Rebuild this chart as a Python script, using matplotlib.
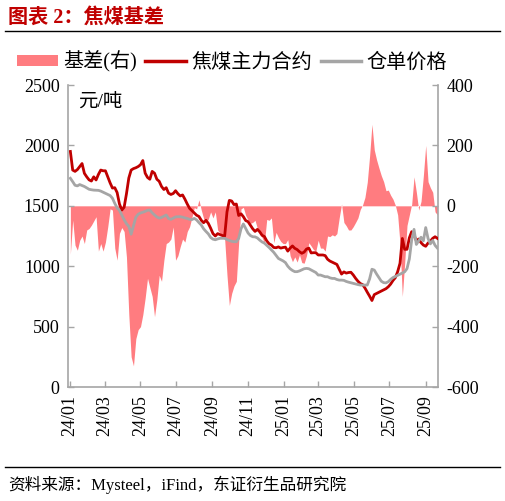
import pandas as pd
import matplotlib.pyplot as plt
import matplotlib.dates as mdates
from matplotlib.lines import Line2D
from matplotlib.patches import Patch

plt.rcParams["font.family"] = ["Liberation Serif", "Noto Sans CJK SC"]
plt.rcParams["axes.unicode_minus"] = False

START = "2024-01-02"
N_POINTS = 158

# 焦煤主力合约 (yuan/ton)
futures = [
    1950, 1796, 1785, 1800, 1825, 1850, 1769, 1740, 1715, 1705,
    1740, 1714, 1760, 1796, 1790, 1790, 1740, 1690, 1647, 1650,
    1610, 1515, 1465, 1488, 1600, 1730, 1796, 1808, 1815, 1825,
    1840, 1875, 1770, 1735, 1720, 1785, 1770, 1720, 1703, 1660,
    1635, 1650, 1605, 1594, 1602, 1625, 1600, 1582, 1590, 1555,
    1515, 1479, 1460, 1440, 1422, 1412, 1380, 1360, 1380, 1355,
    1315, 1270, 1250, 1270, 1262, 1254, 1250, 1450, 1545, 1540,
    1510, 1515, 1420, 1434, 1410, 1378, 1369, 1340, 1310, 1288,
    1305, 1285, 1256, 1246, 1210, 1186, 1175, 1155, 1153, 1160,
    1150, 1155, 1158, 1125, 1150, 1168, 1148, 1138, 1120, 1107,
    1117, 1142, 1150, 1110, 1112, 1112, 1093, 1093, 1093, 1088,
    1058, 1043, 1034, 1025, 1015, 975, 935, 953, 943, 948,
    950, 928, 900, 876, 857, 848, 820, 785, 752, 716,
    765, 775, 785, 795, 804, 814, 830, 852, 882, 905,
    955, 1024, 1230, 1140, 1140, 1235, 1286, 1258, 1210, 1225,
    1195, 1175, 1165, 1192, 1208, 1231, 1244, 1231,
]

# 仓单价格 (yuan/ton)
receipt = [
    1728, 1700, 1670, 1665, 1676, 1668, 1660, 1648, 1637, 1633,
    1630, 1629, 1628, 1622, 1613, 1605, 1596, 1585, 1563, 1520,
    1484, 1462, 1423, 1385, 1352, 1330, 1265, 1335, 1405, 1430,
    1441, 1447, 1454, 1463, 1465, 1442, 1424, 1408, 1398, 1404,
    1414, 1424, 1395, 1388, 1398, 1408, 1410, 1410, 1406, 1400,
    1395, 1388, 1386, 1396, 1383, 1361, 1341, 1310, 1288, 1268,
    1238, 1224, 1219, 1226, 1231, 1231, 1231, 1221, 1213, 1206,
    1203, 1203, 1230, 1310, 1350, 1312, 1275, 1254, 1244, 1243,
    1234, 1216, 1201, 1191, 1173, 1155, 1135, 1115, 1090, 1064,
    1054, 1044, 1030, 1000, 979, 965, 955, 955, 961, 970,
    979, 982, 979, 969, 960, 948, 927, 927, 920, 913,
    913, 904, 899, 899, 890, 885, 885, 883, 874, 868,
    863, 858, 853, 848, 844, 844, 844, 844, 895, 975,
    968, 935, 905, 876, 864, 862, 872, 891, 906, 915,
    925, 934, 944, 954, 980, 1060, 1217, 1305, 1180, 1210,
    1240, 1210, 1320, 1230, 1185, 1213, 1173, 1150,
]

# 基差 (right axis)
basis = [
    -160, -47, -130, -147, -114, -100, -125, -80, -75, -64,
    -50, -36, -150, -125, -150, -120, -69, -10, -14, -140,
    -180, -91, -72, -85, -170, -360, -500, -530, -440, -410,
    -400, -360, -305, -240, -270, -300, -367, -310, -230, -250,
    -180, -125, -120, -110, -70, -180, -165, -135, -110, -120,
    -85, -69, -38, -6, -10, 20, -14, -42, -55, -44,
    -20, -40, -20, -80, -90, -100, -110, -230, -330, -290,
    -265, -250, -120, -10, -5, -32, -46, -58, -55, -48,
    -75, -90, -105, -122, -45, -48, -40, -122, -88, -105,
    -118, -125, -125, -112, -165, -185, -169, -186, -162, -188,
    -190, -165, -122, -133, -145, -150, -114, -140, -140, -150,
    -100, -102, -96, -100, -92, -40, 6, -55, -66, -80,
    -80, -69, -55, -40, -12, 3, 28, 78, 165, 270,
    185, 152, 125, 100, 80, 50, 52, 35, 22, 2,
    -30, -125, -300, -190, -65, -30, 5, 96, 45, -14,
    15, 100, 200, 80, 60, 45, -20, -30,
]

RED = "#c00000"
GREY = "#a5a5a5"
FILL = "#ff7c80"
AXIS = "#a6a6a6"

dates = pd.date_range(START, periods=N_POINTS, freq="4D")

fig = plt.figure(figsize=(5.05, 5.01), dpi=100)
ax = fig.add_axes([0.1347, 0.2275, 0.7326, 0.6028])
ax2 = ax.twinx()

ax2.fill_between(dates, 0, basis, color=FILL, linewidth=0)
ax.plot(dates, futures, color=RED, linewidth=2.0)
ax.plot(dates, receipt, color=GREY, linewidth=2.0)

# lines above the fill
ax.set_zorder(ax2.get_zorder() + 1)
ax.patch.set_visible(False)

ax.set_ylim(0, 2500)
ax.set_yticks(range(0, 2501, 500))
ax2.set_ylim(-600, 400)
ax2.set_yticks(range(-600, 401, 200))
ax.set_xlim(pd.Timestamp("2023-12-29"), pd.Timestamp("2025-09-22"))
ax.xaxis.set_major_locator(mdates.MonthLocator(bymonth=[1, 3, 5, 7, 9, 11]))
ax.xaxis.set_major_formatter(mdates.DateFormatter("%y/%m"))

for a in (ax, ax2):
    a.spines["top"].set_visible(False)
    for s in a.spines.values():
        s.set_color(AXIS)
        s.set_linewidth(1.2)
    a.tick_params(direction="in", length=4, width=1, color=AXIS,
                  labelsize=13, labelcolor="black")
ax.spines["right"].set_visible(False)
ax2.spines["left"].set_visible(False)
ax2.spines["bottom"].set_visible(False)
ax.tick_params(axis="x", rotation=90, pad=6)
ax.tick_params(axis="y", pad=6)
ax2.tick_params(axis="y", pad=6)

ax.text(0.027, 0.944, "元/吨", transform=ax.transAxes, fontsize=14,
        va="center", ha="left")

handles = [Patch(facecolor=FILL, edgecolor="none"),
           Line2D([0], [0], color=RED, linewidth=2.5),
           Line2D([0], [0], color=GREY, linewidth=2.5)]
fig.legend(handles, ["基差(右)", "焦煤主力合约", "仓单价格"],
           loc="center", bbox_to_anchor=(0.46, 1 - 62 / 501), ncol=3,
           frameon=False, fontsize=14.5, handlelength=2.0, handleheight=0.5,
           handletextpad=0.3, columnspacing=0.4)

fig.text(0.016, 1 - 18 / 501, "图表 2：焦煤基差", color=RED, fontsize=14.5,
         fontweight="bold", va="center", ha="left")
fig.add_artist(Line2D([0.01, 0.99], [1 - 31 / 501] * 2, color="black",
                      linewidth=1))
fig.add_artist(Line2D([0.01, 0.99], [1 - 467 / 501] * 2, color="black",
                      linewidth=1))
fig.text(0.016, 1 - 485 / 501, "资料来源：Mysteel，iFind，东证衍生品研究院",
         fontsize=12, va="center", ha="left")

fig.savefig("out.png", dpi=100)
